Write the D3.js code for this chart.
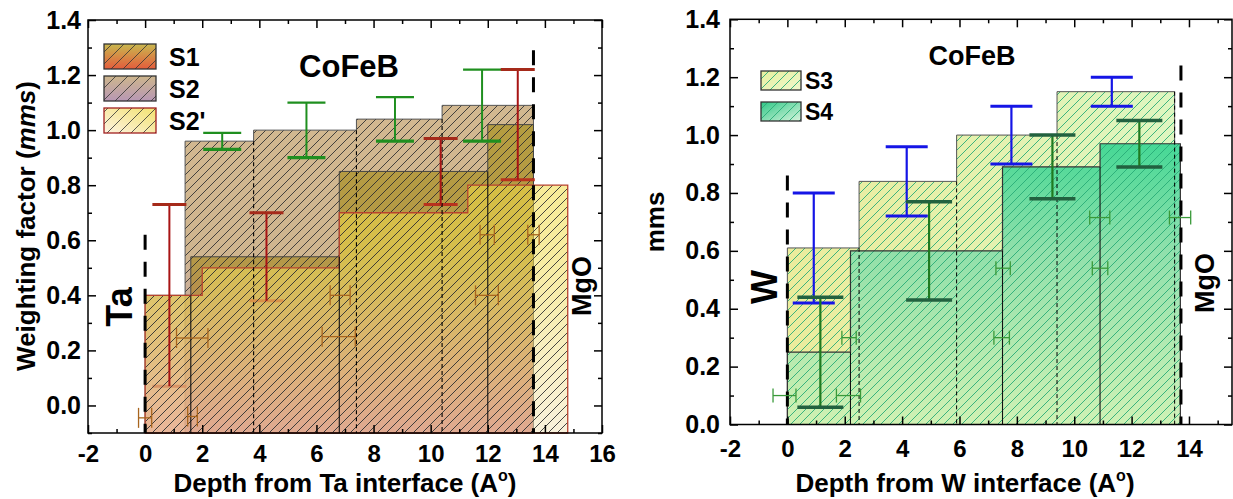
<!DOCTYPE html>
<html><head><meta charset="utf-8">
<script src="https://cdn.jsdelivr.net/npm/d3@7"></script>
<style>
body{margin:0;background:#fff}
svg{display:block}
text{font-family:"Liberation Sans",Arial,Helvetica,sans-serif;font-weight:bold}
</style>
</head><body>
<svg id="c" width="1233" height="499"></svg>
<script>
// ---------------- DATA ----------------
// Left panel (Ta interface)
const s2Edges = [1.4, 3.8, 7.4, 10.4, 13.6];
const s2Vals  = [0.96, 1.00, 1.04, 1.09];
const s1Edges = [0, 1.6, 6.8, 12.0, 13.6];
const s1Vals  = [0.40, 0.54, 0.85, 1.02];
const s2pEdges = [0, 2.0, 6.8, 11.3, 14.8];
const s2pVals  = [0.40, 0.50, 0.70, 0.80];
const s2ErrX  = [2.7, 5.65, 8.75, 11.8];
const s2ErrLo = [0.93, 0.90, 0.96, 0.96];
const s2ErrHi = [0.99, 1.10, 1.12, 1.22];
const s1ErrX  = [0.85, 4.25, 10.35, 13.05];
const s1ErrLo = [0.07, 0.38, 0.73, 0.82];
const s1ErrHi = [0.73, 0.70, 0.97, 1.22];
const hErrLX = [0, 1.66, 1.65, 6.83, 6.78, 11.97, 11.98, 13.6];
const hErrLY = [-0.045, -0.04, 0.245, 0.40, 0.25, 0.40, 0.62, 0.62];
const hErrLE = [0.23, 0.17, 0.55, 0.35, 0.58, 0.40, 0.25, 0.20];
const ifaceLX = [0, 13.6];
const ifaceLTop = [0.62, 1.29];
const xTicksL = [-2, 0, 2, 4, 6, 8, 10, 12, 14, 16];
const xMinorL = [-1, 1, 3, 5, 7, 9, 11, 13, 15];
const yTicksL = [0.0, 0.2, 0.4, 0.6, 0.8, 1.0, 1.2, 1.4];
const yMinorL = [-0.1, 0.1, 0.3, 0.5, 0.7, 0.9, 1.1, 1.3];
const legendL = ["S1", "S2", "S2'"];

// Right panel (W interface)
const s3Edges = [0, 2.5, 5.9, 9.4, 13.5];
const s3Vals  = [0.61, 0.84, 1.00, 1.15];
const s4Edges = [0, 2.2, 7.5, 10.9, 13.7];
const s4Vals  = [0.25, 0.60, 0.89, 0.97];
const s3ErrX  = [0.92, 4.16, 7.81, 11.31];
const s3ErrLo = [0.42, 0.72, 0.90, 1.10];
const s3ErrHi = [0.80, 0.96, 1.10, 1.20];
const s4ErrX  = [1.15, 4.94, 9.24, 12.27];
const s4ErrLo = [0.06, 0.43, 0.78, 0.89];
const s4ErrHi = [0.44, 0.77, 1.00, 1.05];
const hErrRX = [-0.1, 2.13, 2.15, 7.47, 7.52, 10.9, 10.89, 13.69];
const hErrRY = [0.10, 0.10, 0.30, 0.30, 0.54, 0.54, 0.715, 0.715];
const hErrRE = [0.40, 0.42, 0.25, 0.27, 0.25, 0.27, 0.35, 0.37];
const ifaceRX = [0, 13.72];
const ifaceRTop = [0.86, 1.24];
const xTicksR = [-2, 0, 2, 4, 6, 8, 10, 12, 14];
const xMinorR = [-1, 1, 3, 5, 7, 9, 11, 13, 15];
const yTicksR = [0.0, 0.2, 0.4, 0.6, 0.8, 1.0, 1.2, 1.4];
const yMinorR = [0.1, 0.3, 0.5, 0.7, 0.9, 1.1, 1.3];
const legendR = ["S3", "S4"];

// ---------------- SETUP ----------------
const svg = d3.select("#c");
const defs = svg.append("defs");
const FONT = '"Liberation Sans",Arial,Helvetica,sans-serif';

const xL = d3.scaleLinear().domain([-2, 16]).range([88, 602]);
const yL = d3.scaleLinear().domain([-0.1, 1.4]).range([433, 20]);
const xR = d3.scaleLinear().domain([-2, 15.5]).range([730, 1232]);
const yR = d3.scaleLinear().domain([0, 1.4]).range([424.5, 19.3]);

function hatch(id, size, color, w) {
  const p = defs.append("pattern").attr("id", id).attr("patternUnits", "userSpaceOnUse")
    .attr("width", size).attr("height", size);
  p.append("path").attr("d", `M-1,1 l2,-2 M0,${size} l${size},-${size} M${size-1},${size+1} l2,-2`)
    .attr("stroke", color).attr("stroke-width", w).attr("fill", "none");
}
hatch("hL", 9, "#333", 0.9);
hatch("hR", 9, "#2aad78", 0.9);
hatch("hLleg", 12, "#333", 0.8);
hatch("hRleg", 10, "#2aad78", 0.9);

function grad(id, stops, attrs) {
  const g = defs.append("linearGradient").attr("id", id);
  Object.entries(attrs).forEach(([k, v]) => g.attr(k, v));
  stops.forEach(([o, c]) => g.append("stop").attr("offset", o).attr("stop-color", c));
}
const uL = {gradientUnits: "userSpaceOnUse", x1: 0, x2: 0, y1: yL(1.1), y2: yL(-0.1)};
grad("gS2", [[0, "#d2b890"], [0.45, "#cfb58f"], [1, "#b89ab8"]], uL);
grad("gS1", [[0, "#a8921c"], [0.5, "#aa8c2a"], [1, "#cd4632"]], uL);
grad("gS2p", [[0, "#f2dc34"], [0.45, "#f0dc50"], [1, "#f4e6be"]], uL);
grad("gS3", [[0, "#ecec9c"], [1, "#def6c0"]], {gradientUnits: "userSpaceOnUse", x1: xR(0), x2: xR(13.5), y1: 0, y2: 0});
grad("gS4", [[0, "#2ed48f"], [0.4, "#88deaa"], [1, "#cdf1b4"]], {gradientUnits: "userSpaceOnUse", x1: 0, x2: 0, y1: yR(1.0), y2: yR(0)});
// legend gradients
grad("lS1", [[0, "#c8b84e"], [1, "#e55c3c"]], {x1: 0, y1: 0, x2: 0, y2: 1});
grad("lS2", [[0, "#cdb68c"], [1, "#b897b5"]], {x1: 0, y1: 0, x2: 0, y2: 1});
grad("lS2p", [[0, "#f2e270"], [1, "#fdf3e2"]], {x1: 1, y1: 0, x2: 0, y2: 1});
grad("lS3", [[0, "#e8ef9e"], [1, "#eef8cc"]], {x1: 0, y1: 0, x2: 1, y2: 1});
grad("lS4", [[0, "#2fc887"], [1, "#d8f4dc"]], {x1: 0, y1: 0, x2: 1, y2: 1});

function stepPts(edges, vals) {
  const pts = vals.map((v, i) => [edges[i], v]);
  pts.push([edges[edges.length - 1], vals[vals.length - 1]]);
  return pts;
}
function stepArea(x, y, base) {
  return d3.area().x(d => x(d[0])).y0(y(base)).y1(d => y(d[1])).curve(d3.curveStepAfter);
}
function bars(g, x, y, base, edges, vals, fill, opacity, hatchId, stroke, sw) {
  const a = stepArea(x, y, base);
  const pts = stepPts(edges, vals);
  g.append("path").datum(pts).attr("d", a).attr("fill", fill).attr("fill-opacity", opacity);
  g.append("path").datum(pts).attr("d", a).attr("fill", `url(#${hatchId})`);
  g.append("path").datum(pts).attr("d", a).attr("fill", "none").attr("stroke", stroke).attr("stroke-width", sw);
}
function boundaries(g, x, y, base, edges, vals, dash, color, w, includeLast) {
  const b = [];
  for (let i = 1; i < edges.length - 1; i++) b.push({x: edges[i], t: Math.min(vals[i - 1], vals[i])});
  if (includeLast) b.push({x: edges[edges.length - 1], t: vals[vals.length - 1]});
  g.selectAll(null).data(b).enter().append("line")
    .attr("x1", d => x(d.x)).attr("x2", d => x(d.x)).attr("y1", d => y(d.t)).attr("y2", y(base))
    .attr("stroke", color).attr("stroke-width", w).attr("stroke-dasharray", dash);
}
function interfaces(g, x, y, base, X, T) {
  g.selectAll(null).data(X.map((v, i) => [v, T[i]])).enter().append("line")
    .attr("x1", d => x(d[0])).attr("x2", d => x(d[0])).attr("y1", d => y(d[1])).attr("y2", y(base))
    .attr("stroke", "#000").attr("stroke-width", 3).attr("stroke-dasharray", "15,12");
}
function hErr(g, x, y, X, Y, E, color, capH) {
  const d = X.map((v, i) => ({x: v, y: Y[i], e: E[i]}));
  const s = g.selectAll(null).data(d).enter().append("g").attr("stroke", color).attr("stroke-width", 1.3);
  s.append("line").attr("x1", d => x(d.x - d.e)).attr("x2", d => x(d.x + d.e)).attr("y1", d => y(d.y)).attr("y2", d => y(d.y));
  s.append("line").attr("x1", d => x(d.x - d.e)).attr("x2", d => x(d.x - d.e)).attr("y1", d => y(d.y) - capH).attr("y2", d => y(d.y) + capH);
  s.append("line").attr("x1", d => x(d.x + d.e)).attr("x2", d => x(d.x + d.e)).attr("y1", d => y(d.y) - capH).attr("y2", d => y(d.y) + capH);
}
function vErr(g, x, y, X, LO, HI, o) {
  const d = X.map((v, i) => ({x: v, lo: LO[i], hi: HI[i]}));
  const sel = g.selectAll(null).data(d).enter();
  if (o.stem) sel.append("line").attr("x1", d => x(d.x)).attr("x2", d => x(d.x)).attr("y1", d => y(d.lo)).attr("y2", d => y(d.hi))
    .attr("stroke", o.stem).attr("stroke-width", o.stemW);
  if (o.top) sel.append("line").attr("x1", d => x(d.x) - o.cap / 2).attr("x2", d => x(d.x) + o.cap / 2)
    .attr("y1", d => y(d.hi)).attr("y2", d => y(d.hi)).attr("stroke", o.top).attr("stroke-width", o.topW);
  if (o.bot) sel.append("line").attr("x1", d => x(d.x) - o.cap / 2).attr("x2", d => x(d.x) + o.cap / 2)
    .attr("y1", d => y(d.lo)).attr("y2", d => y(d.lo)).attr("stroke", o.bot).attr("stroke-width", o.botW);
}
function axes(g, x, y, xt, xm, yt, ym, yfmt, xpad, ypad) {
  const [x0, x1] = x.range(), [y0, y1] = y.range();
  const st = sel => { sel.select(".domain").remove(); sel.selectAll("line").attr("stroke", "#000").attr("stroke-width", 1.5); };
  const bx = g.append("g").attr("transform", `translate(0,${y0})`)
    .call(d3.axisBottom(x).tickValues(xt).tickSize(-8).tickPadding(xpad).tickFormat(d => String(d))).call(st);
  bx.attr("font-size", 24).attr("font-family", FONT);
  bx.selectAll("text").attr("fill", "#000");
  g.append("g").attr("transform", `translate(0,${y0})`).call(d3.axisBottom(x).tickValues(xm).tickSize(-4).tickFormat("")).call(st);
  g.append("g").attr("transform", `translate(0,${y1})`).call(d3.axisTop(x).tickValues(xt).tickSize(-8).tickFormat("")).call(st);
  g.append("g").attr("transform", `translate(0,${y1})`).call(d3.axisTop(x).tickValues(xm).tickSize(-4).tickFormat("")).call(st);
  const ly = g.append("g").attr("transform", `translate(${x0},0)`)
    .call(d3.axisLeft(y).tickValues(yt).tickSize(-8).tickPadding(ypad).tickFormat(yfmt)).call(st);
  ly.attr("font-size", 25).attr("font-family", FONT);
  ly.selectAll("text").attr("fill", "#000");
  g.append("g").attr("transform", `translate(${x0},0)`).call(d3.axisLeft(y).tickValues(ym).tickSize(-4).tickFormat("")).call(st);
  g.append("g").attr("transform", `translate(${x1},0)`).call(d3.axisRight(y).tickValues(yt).tickSize(-8).tickFormat("")).call(st);
  g.append("g").attr("transform", `translate(${x1},0)`).call(d3.axisRight(y).tickValues(ym).tickSize(-4).tickFormat("")).call(st);
  g.append("rect").attr("x", x0).attr("y", y1).attr("width", x1 - x0).attr("height", y0 - y1)
    .attr("fill", "none").attr("stroke", "#000").attr("stroke-width", 1.5);
}
function label(g, txt, x, y, size, rot, anchor) {
  return g.append("text").attr("transform", `translate(${x},${y})` + (rot ? ` rotate(${rot})` : ""))
    .attr("text-anchor", anchor || "middle").attr("font-size", size).attr("fill", "#000").text(txt);
}
const fmt1 = d3.format(".1f");

// ---------------- LEFT PANEL ----------------
const L = svg.append("g");
bars(L, xL, yL, -0.1, s2Edges, s2Vals, "url(#gS2)", 1, "hL", "#555", 1);
bars(L, xL, yL, -0.1, s1Edges, s1Vals, "url(#gS1)", 0.7, "hL", "#444", 1);
// lower caps of S1 error bars lie beneath S2'
vErr(L, xL, yL, s1ErrX, s1ErrLo, s1ErrHi, {bot: "#b8321e", botW: 3, cap: 34});
bars(L, xL, yL, -0.1, s2pEdges, s2pVals, "url(#gS2p)", 0.55, "hL", "#b8432e", 1.3);
boundaries(L, xL, yL, -0.1, s2Edges, s2Vals, "4,3", "#000", 1.1, false);
boundaries(L, xL, yL, -0.1, s1Edges, s1Vals, null, "#111", 1.1, false);
interfaces(L, xL, yL, -0.1, ifaceLX, ifaceLTop);
hErr(L, xL, yL, hErrLX, hErrLY, hErrLE, "#a8651e", 10);
vErr(L, xL, yL, s2ErrX, s2ErrLo, s2ErrHi, {stem: "#1f8f1f", stemW: 2, top: "#1f8f1f", topW: 2.2, bot: "#1f8f1f", botW: 3.2, cap: 38});
vErr(L, xL, yL, s1ErrX, s1ErrLo, s1ErrHi, {stem: "#a81414", stemW: 2, top: "#a52a1a", topW: 3, cap: 34});
axes(L, xL, yL, xTicksL, xMinorL, yTicksL, yMinorL, fmt1, 12, 7);

// legend left
const legFillsL = ["url(#lS1)", "url(#lS2)", "url(#lS2p)"];
const legStrokeL = ["#333", "#333", "#a02020"];
const legYL = d3.scalePoint().domain(legendL).range([56.5, 120.5]);
legendL.forEach((s, i) => {
  const yy = legYL(s);
  L.append("rect").attr("x", 104).attr("y", yy - 12.5).attr("width", 52).attr("height", 25).attr("fill", legFillsL[i]);
  L.append("rect").attr("x", 104).attr("y", yy - 12.5).attr("width", 52).attr("height", 25).attr("fill", "url(#hLleg)")
    .attr("stroke", legStrokeL[i]).attr("stroke-width", 1.3);
  label(L, s, 169, yy + 9, 25, 0, "start");
});
label(L, "CoFeB", 349, 77, 31);
label(L, "Ta", 132, 307, 36, -90);
label(L, "MgO", 591, 286, 27, -90);
const xtL = label(L, "Depth from Ta interface (A", 345, 492, 26);
xtL.append("tspan").attr("dy", -11).attr("font-size", 16).text("o");
xtL.append("tspan").attr("dy", 11).text(")");
const ytL = label(L, "Weighting factor (", 35, 226, 26, -90);
ytL.append("tspan").attr("font-style", "italic").text("mms");
ytL.append("tspan").text(")");

// ---------------- RIGHT PANEL ----------------
const R = svg.append("g");
bars(R, xR, yR, 0, s3Edges, s3Vals, "url(#gS3)", 1, "hR", "#555", 1);
bars(R, xR, yR, 0, s4Edges, s4Vals, "url(#gS4)", 0.9, "hR", "#333", 1.2);
boundaries(R, xR, yR, 0, s3Edges, s3Vals, "4,3", "#000", 1, true);
boundaries(R, xR, yR, 0, s4Edges, s4Vals, null, "#111", 1.1, false);
interfaces(R, xR, yR, 0, ifaceRX, ifaceRTop);
hErr(R, xR, yR, hErrRX, hErrRY, hErrRE, "#3a9a3a", 7);
vErr(R, xR, yR, s3ErrX, s3ErrLo, s3ErrHi, {stem: "#1515e6", stemW: 2.2, top: "#1515e6", topW: 3, bot: "#1515e6", botW: 3, cap: 42});
vErr(R, xR, yR, s4ErrX, s4ErrLo, s4ErrHi, {stem: "#1f7a1f", stemW: 2.2, top: "#22613f", topW: 3.5, bot: "#22613f", botW: 3.5, cap: 46});
axes(R, xR, yR, xTicksR, xMinorR, yTicksR, yMinorR, fmt1, 15, 10);

const legFillsR = ["url(#lS3)", "url(#lS4)"];
const legYR = d3.scalePoint().domain(legendR).range([80.5, 111.5]);
legendR.forEach((s, i) => {
  const yy = legYR(s);
  R.append("rect").attr("x", 761).attr("y", yy - 9.5).attr("width", 40).attr("height", 19).attr("fill", legFillsR[i]);
  R.append("rect").attr("x", 761).attr("y", yy - 9.5).attr("width", 40).attr("height", 19).attr("fill", "url(#hRleg)")
    .attr("stroke", "#333").attr("stroke-width", 1.3);
  label(R, s, 805, yy + 8, 23, 0, "start");
});
label(R, "CoFeB", 972, 65, 27);
label(R, "W", 777, 287, 36, -90);
label(R, "MgO", 1214, 283, 27, -90);
const xtR = label(R, "Depth from W interface (A", 965, 492, 26);
xtR.append("tspan").attr("dy", -11).attr("font-size", 16).text("o");
xtR.append("tspan").attr("dy", 11).text(")");
label(R, "mms", 664, 222, 26, -90);
</script>
</body></html>
